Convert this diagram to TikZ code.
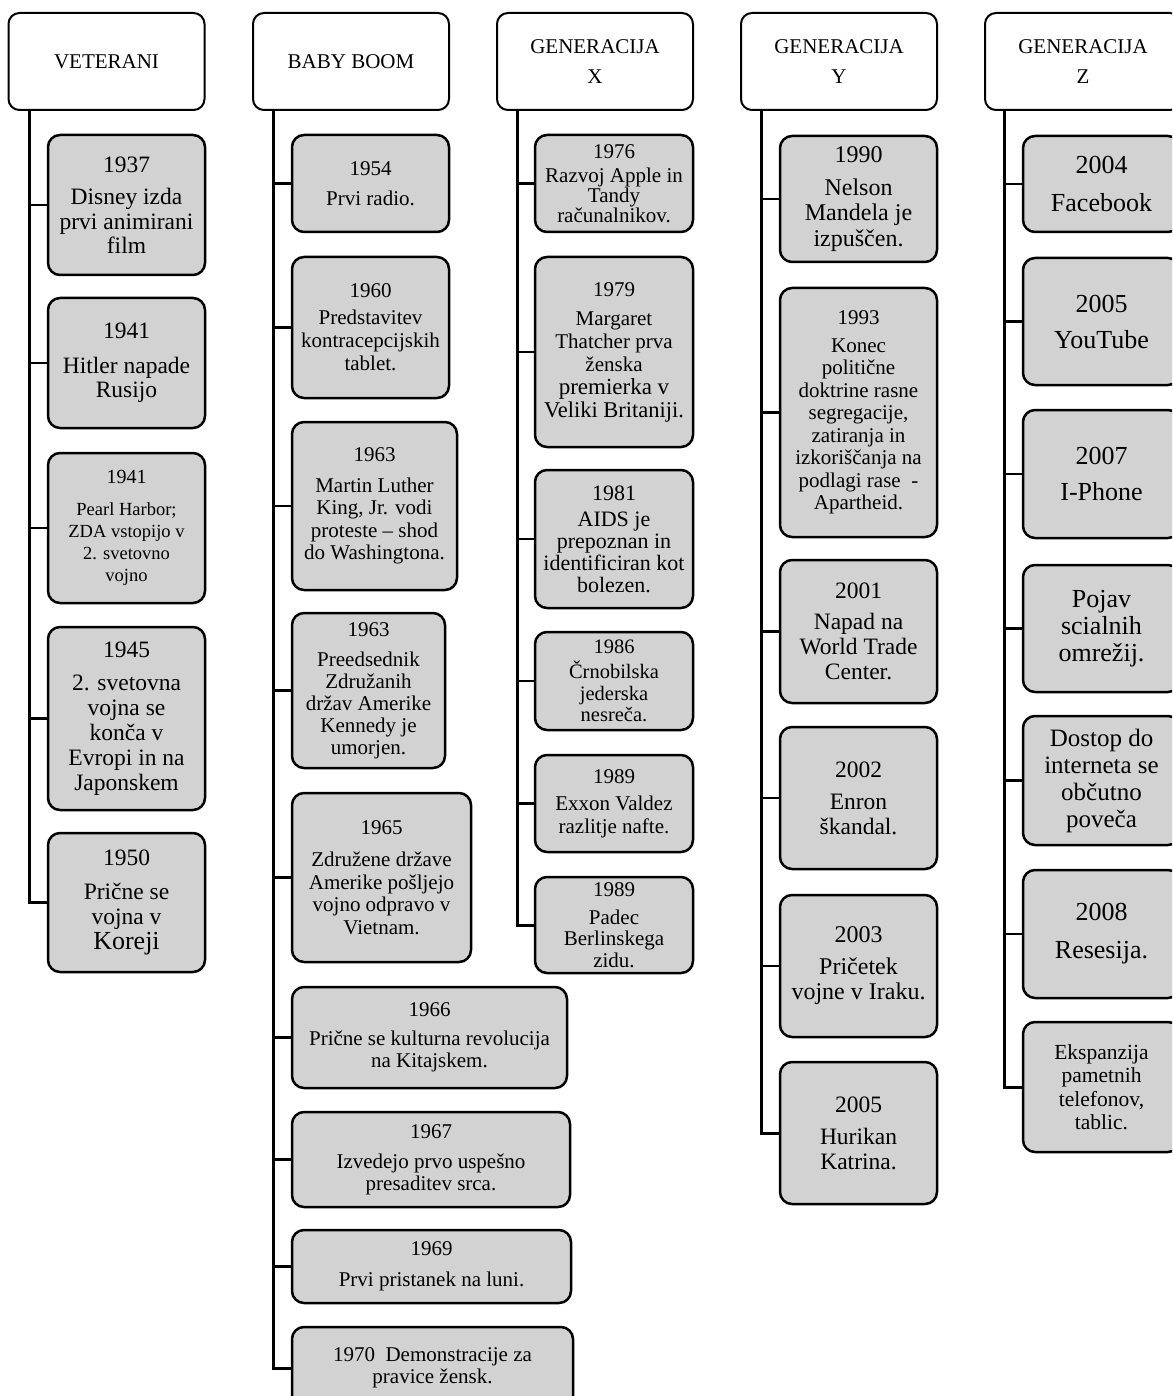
\documentclass[tikz,border=0pt]{standalone}
\usepackage{fontspec}
\setmainfont{Liberation Serif}
\definecolor{boxgray}{RGB}{210,210,210}
\tikzset{
  hdr/.style={draw, fill=white, rounded corners=11pt, line width=2pt,
    minimum width=196pt, minimum height=97pt, align=center, inner sep=0pt,
    font=\fontsize{21}{23}\selectfont},
  evt/.style 2 args={draw, fill=boxgray, rounded corners=12pt, line width=2.5pt,
    minimum width=#1, minimum height=#2, align=center, inner sep=0pt},
  trunk/.style={line width=3pt},
  branch/.style={line width=2.2pt},
}
\begin{document}
\begin{tikzpicture}[x=1pt, y=-1pt]
\useasboundingbox (0,0) rectangle (1172,1396);
\clip (0,0) rectangle (1172,1396);

% ---------- headers ----------
\node[hdr] (hV) at (106.5,61.5) {VETERANI};
\node[hdr] (hB) at (351,61.5) {BABY BOOM};
\node[hdr] (hX) at (595,61.5) {GENERACIJA\\[7pt]X};
\node[hdr] (hY) at (839,61.5) {GENERACIJA\\[7pt]Y};
\node[hdr] (hZ) at (1083,61.5) {GENERACIJA\\[7pt]Z};

% trunk positions
\coordinate (tV) at (29,110);
\coordinate (tB) at (273,110);
\coordinate (tX) at (517,110);
\coordinate (tY) at (761,110);
\coordinate (tZ) at (1004,110);

% ---------- VETERANI ----------
\node[evt={157pt}{140pt}, font=\fontsize{23.5}{24.5}\selectfont] (v1) at (126.5,205)
  {1937\\[8pt]Disney izda\\prvi animirani\\film};
\node[evt={157pt}{130pt}, font=\fontsize{23.5}{24.5}\selectfont] (v2) at (126.5,363)
  {1941\\[10pt]Hitler napade\\Rusijo};
\node[evt={157pt}{150pt}, font=\fontsize{18.5}{22}\selectfont] (v3) at (126.5,528)
  {{\fontsize{20}{21}\selectfont 1941}\\[10pt]Pearl Harbor;\\ZDA vstopijo v\\2. svetovno\\vojno};
\node[evt={157pt}{183pt}, font=\fontsize{23.5}{25}\selectfont] (v4) at (126.5,718.5)
  {1945\\[8pt]2. svetovna\\vojna se\\konča v\\Evropi in na\\Japonskem};
\node[evt={157pt}{139pt}, font=\fontsize{23.5}{25}\selectfont] (v5) at (126.5,902.5)
  {1950\\[9pt]Pričnе se\\vojna v\\{\fontsize{26}{27}\selectfont Koreji}};

\draw[trunk] (hV.south -| tV) |- (v5.west);
\foreach \n in {v1,v2,v3,v4} \draw[branch] (\n.west) -- (\n.west -| tV);

% ---------- BABY BOOM ----------
\node[evt={157pt}{97pt}, font=\fontsize{21}{23}\selectfont] (b1) at (370.5,183.5)
  {1954\\[7pt]Prvi radio.};
\node[evt={157pt}{141pt}, font=\fontsize{21}{23}\selectfont] (b2) at (370.5,327.5)
  {1960\\[4pt]Predstavitev\\kontracepcijskih\\tablet.};
\node[evt={165pt}{168pt}, font=\fontsize{21}{22.5}\selectfont] (b3) at (374.5,506)
  {1963\\[8pt]Martin Luther\\King, Jr. vodi\\proteste – shod\\do Washingtona.};
\node[evt={153pt}{155pt}, font=\fontsize{21}{22}\selectfont] (b4) at (368.5,690.5)
  {1963\\[8pt]Preedsednik\\Združanih\\držav Amerike\\Kennedy je\\umorjen.};
\node[evt={179pt}{169pt}, font=\fontsize{21}{22.5}\selectfont] (b5) at (381.5,877.5)
  {1965\\[10pt]Združene države\\Amerike pošljejo\\vojno odpravo v\\Vietnam.};
\node[evt={275pt}{101pt}, font=\fontsize{21}{22}\selectfont] (b6) at (429.5,1037.5)
  {1966\\[7pt]Pričnе se kulturna revolucija\\na Kitajskem.};
\node[evt={278pt}{95pt}, font=\fontsize{21}{22}\selectfont] (b7) at (431,1159.5)
  {1967\\[8pt]Izvedejo prvo uspešno\\presaditev srca.};
\node[evt={279pt}{73pt}, font=\fontsize{21}{22}\selectfont] (b8) at (431.5,1266.5)
  {1969\\[9pt]Prvi pristanek na luni.};
\node[evt={281pt}{82pt}, font=\fontsize{21}{22}\selectfont] (b9) at (432.5,1368)
  {1970\ \ Demonstracije za\\pravice žensk.};

\draw[trunk] (hB.south -| tB) |- (b9.west);
\foreach \n in {b1,b2,b3,b4,b5,b6,b7,b8} \draw[branch] (\n.west) -- (\n.west -| tB);

% ---------- GENERACIJA X ----------
\node[evt={158pt}{97pt}, font=\fontsize{21}{20}\selectfont] (x1) at (614,183.5)
  {1976\\[4pt]Razvoj Apple in\\Tandy\\računalnikov.};
\node[evt={158pt}{190pt}, font=\fontsize{21}{23}\selectfont] (x2) at (614,352)
  {1979\\[6pt]Margaret\\Thatcher prva\\ženska\\{\fontsize{23}{24}\selectfont premierka v}\\{\fontsize{22.5}{24}\selectfont Veliki Britaniji.}};
\node[evt={158pt}{138pt}, font=\fontsize{22}{22}\selectfont] (x3) at (614,539)
  {1981\\[4pt]AIDS je\\prepoznan in\\identificiran kot\\bolezen.};
\node[evt={158pt}{98pt}, font=\fontsize{20.5}{21.5}\selectfont] (x4) at (614,681)
  {1986\\[4pt]Črnobilska\\jederska\\nesreča.};
\node[evt={158pt}{97pt}, font=\fontsize{21}{23}\selectfont] (x5) at (614,803.5)
  {1989\\[4pt]Exxon Valdez\\razlitje nafte.};
\node[evt={158pt}{96pt}, font=\fontsize{21}{21.5}\selectfont] (x6) at (614,925)
  {1989\\[6pt]Padec\\Berlinskega\\zidu.};

\draw[trunk] (hX.south -| tX) |- (x6.west);
\foreach \n in {x1,x2,x3,x4,x5} \draw[branch] (\n.west) -- (\n.west -| tX);

% ---------- GENERACIJA Y ----------
\node[evt={157pt}{126pt}, font=\fontsize{24}{25.5}\selectfont] (y1) at (858.5,199)
  {1990\\[7pt]Nelson\\Mandela je\\izpuščen.};
\node[evt={157pt}{249pt}, font=\fontsize{21}{22.5}\selectfont] (y2) at (858.5,412.5)
  {1993\\[5pt]Konec\\politične\\doktrine rasne\\segregacije,\\zatiranja in\\izkoriščanja na\\podlagi rase\ \ -\\Apartheid.};
\node[evt={157pt}{143pt}, font=\fontsize{23.5}{25}\selectfont] (y3) at (858.5,631.5)
  {2001\\[6pt]Napad na\\World Trade\\Center.};
\node[evt={157pt}{142pt}, font=\fontsize{23.5}{25}\selectfont] (y4) at (858.5,798)
  {2002\\[7pt]Enron\\škandal.};
\node[evt={157pt}{142pt}, font=\fontsize{24}{25}\selectfont] (y5) at (858.5,966)
  {2003\\[7pt]Pričetek\\vojne v Iraku.};
\node[evt={157pt}{142pt}, font=\fontsize{23.5}{25}\selectfont] (y6) at (858.5,1133)
  {2005\\[7pt]Hurikan\\Katrina.};

\draw[trunk] (hY.south -| tY) |- (y6.west);
\foreach \n in {y1,y2,y3,y4,y5} \draw[branch] (\n.west) -- (\n.west -| tY);

% ---------- GENERACIJA Z ----------
\node[evt={157pt}{96pt}, font=\fontsize{26}{28}\selectfont] (z1) at (1101.5,184)
  {2004\\[10pt]Facebook};
\node[evt={157pt}{127pt}, font=\fontsize{26}{28}\selectfont] (z2) at (1101.5,321.5)
  {2005\\[8pt]YouTube};
\node[evt={157pt}{128pt}, font=\fontsize{26}{28}\selectfont] (z3) at (1101.5,474)
  {2007\\[8pt]I-Phone};
\node[evt={157pt}{127pt}, font=\fontsize{26}{27}\selectfont] (z4) at (1101.5,628.5)
  {Pojav\\scialnih\\omrežij.};
\node[evt={157pt}{129pt}, font=\fontsize{25}{27}\selectfont] (z5) at (1101.5,780.5)
  {Dostop do\\interneta se\\občutno\\poveča};
\node[evt={157pt}{128pt}, font=\fontsize{26}{28}\selectfont] (z6) at (1101.5,934)
  {2008\\[10pt]Resesija.};
\node[evt={157pt}{130pt}, font=\fontsize{21.5}{23.5}\selectfont] (z7) at (1101.5,1087)
  {Ekspanzija\\pametnih\\telefonov,\\tablic.};

\draw[trunk] (hZ.south -| tZ) |- (z7.west);
\foreach \n in {z1,z2,z3,z4,z5,z6} \draw[branch] (\n.west) -- (\n.west -| tZ);
\end{tikzpicture}
\end{document}
